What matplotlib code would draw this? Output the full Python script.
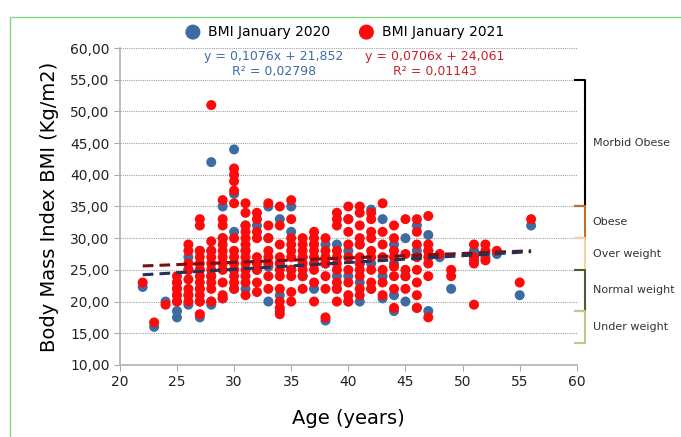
import matplotlib.pyplot as plt
from matplotlib.patches import Rectangle
from matplotlib.ticker import FuncFormatter
import numpy as np

# BMI readings per age
bmi_2020 = {
    22: [22.3], 23: [16.0], 24: [20.0],
    25: [17.5, 18.5, 20, 21, 22, 23], 26: [19.5, 21, 25, 27],
    27: [17.5, 20, 22, 25, 28], 28: [19.5, 20, 24, 28, 42],
    29: [20.5, 30, 35], 30: [22, 25, 31, 37, 44], 31: [22, 28, 32],
    32: [25, 32], 33: [20, 25.5, 30, 35], 34: [18.5, 21, 26, 33],
    35: [25, 31, 35], 36: [24, 27], 37: [22, 26, 29], 38: [17, 26, 29],
    39: [22, 24, 29], 40: [20, 24, 28, 33], 41: [20, 23, 26, 29],
    42: [22, 26, 34.5], 43: [20.5, 24, 33], 44: [18.5, 21, 26, 29],
    45: [20, 24, 30], 46: [19, 28, 32], 47: [18.5, 28, 30.5],
    48: [27], 49: [22], 51: [26.5, 28], 52: [27, 27.5], 53: [27.5],
    55: [21], 56: [32],
}
bmi_2021 = {
    22: [23.0], 23: [16.7], 24: [19.5],
    25: [20, 21, 22, 23, 24], 26: [20, 21, 22, 23.5, 25, 26, 28, 29],
    27: [18, 20, 21, 22, 23, 24, 25, 26, 27, 28, 32, 33],
    28: [20, 22, 23, 24, 25, 26, 27, 28, 29.5, 51],
    29: [20.5, 21, 23, 25, 26, 27, 28, 29, 30, 32, 33, 36],
    30: [22, 23, 24, 25, 26, 27, 28, 30, 35.5, 37.5, 39, 40, 41],
    31: [21, 23, 24, 25, 26, 27, 28, 29, 30, 31, 32, 34, 35.5],
    32: [21.5, 23, 25, 26, 27, 30, 31, 33, 34],
    33: [22, 24, 26, 27, 28, 30, 32, 35.5],
    34: [18, 19, 20, 22, 24, 25, 26, 27, 29, 32, 35],
    35: [20, 21.5, 24, 25, 27, 28, 29, 30, 33, 36],
    36: [22, 24, 25, 26, 27, 28, 29, 30],
    37: [20, 23, 25, 26, 27, 28, 29, 30, 31],
    38: [17.5, 22, 24, 26, 27, 28, 30],
    39: [20, 22, 23, 25, 26, 27, 28, 32, 33, 34],
    40: [20, 21, 23, 25, 27, 29, 31, 33, 35],
    41: [21, 22, 24, 25, 26, 27, 29, 30, 32, 34, 35],
    42: [22, 23, 25, 27, 28, 30, 31, 33, 34],
    43: [21, 23, 25, 27, 29, 31, 35.5],
    44: [19, 22, 24, 25.5, 27, 28, 30, 32],
    45: [22, 24, 25, 27.5, 33],
    46: [19, 21, 23, 25, 27, 29, 31, 33],
    47: [17.5, 24, 26, 27, 28, 29, 33.5],
    48: [27.5], 49: [24, 25], 51: [19.5, 26, 27, 29],
    52: [26.5, 28, 29], 53: [28], 55: [23], 56: [33],
}

# trendlines printed on the chart (slope, intercept)
fit_2020 = [0.1076, 21.852]
fit_2021 = [0.0706, 24.061]

# WHO categories shown as brackets on the right
categories = ["Morbid Obese", "Obese", "Over weight", "Normal weight", "Under weight"]
cat_low = [35, 30, 25, 18.5, 13.5]
cat_high = [55, 35, 30, 25, 18.5]
cat_colors = ["#000000", "#c0702c", "#f6cfa4", "#4d5e2c", "#b9cb8e"]

blue = "#3d6ca3"
red = "#ff0a0a"


def flatten(d):
    xs, ys = [], []
    for age, vals in d.items():
        xs += [age] * len(vals)
        ys += vals
    return np.array(xs), np.array(ys)


x20, y20 = flatten(bmi_2020)
x21, y21 = flatten(bmi_2021)

fig = plt.figure(figsize=(6.81, 4.37), dpi=100)
ax = fig.add_axes([0.176, 0.165, 0.671, 0.725])

# light green frame around the figure
fig.patches.append(Rectangle((10 / 681, -0.1), 1.2, 1 - 17 / 437 + 0.1,
                             transform=fig.transFigure, fill=False,
                             edgecolor="#86d486", linewidth=1.0))

ax.scatter(x20, y20, s=52, color=blue, zorder=3, label="BMI January 2020",
           edgecolors="none")
ax.scatter(x21, y21, s=52, color=red, zorder=4, label="BMI January 2021",
           edgecolors="none")

xt = np.array([22, 56])
ax.plot(xt, fit_2021[0] * xt + fit_2021[1], color="#7a0f12", lw=2.2,
        ls=(0, (3.5, 2)), zorder=5)
ax.plot(xt, fit_2020[0] * xt + fit_2020[1], color="#1f3458", lw=2.2,
        ls=(0, (3.5, 2)), zorder=5)

ax.set_xlim(20, 60)
ax.set_ylim(10, 60)
ax.set_xticks(range(20, 61, 5))
ax.set_yticks(range(10, 61, 5))
ax.yaxis.set_major_formatter(FuncFormatter(lambda v, p: f"{v:.2f}".replace(".", ",")))
ax.tick_params(labelsize=10, colors="#333333", length=4, color="#aaaaaa")
for lab in ax.get_xticklabels() + ax.get_yticklabels():
    lab.set_color("#222222")
for s in ["top", "right"]:
    ax.spines[s].set_visible(False)
for s in ["left", "bottom"]:
    ax.spines[s].set_color("#b0b0b0")
    ax.spines[s].set_linewidth(1.2)
for v in range(15, 61, 5):
    ax.axhline(v, color="#a0a0a0", lw=0.8, ls=(0, (1, 1)), zorder=1)

ax.set_xlabel("Age (years)", fontsize=14, labelpad=14)
ax.set_ylabel("Body Mass Index BMI (Kg/m2)", fontsize=14, labelpad=8)

# trendline equations
ax.text(33.5, 57.5, "y = 0,1076x + 21,852\nR² = 0,02798", color="#3d6ca3",
        fontsize=9, ha="center", va="center", linespacing=1.15)
ax.text(47.6, 57.5, "y = 0,0706x + 24,061\nR² = 0,01143", color="#c8232b",
        fontsize=9, ha="center", va="center", linespacing=1.15)

ax.legend(loc="lower center", bbox_to_anchor=(0.485, 0.99), ncol=2,
          frameon=False, fontsize=10, handletextpad=0.1,
          columnspacing=1.6, markerscale=1.5)

# category brackets
for name, lo, hi, c in zip(categories, cat_low, cat_high, cat_colors):
    ax.plot([59.8, 60.7, 60.7, 59.8], [hi, hi, lo, lo], color=c, lw=1.5,
            clip_on=False, zorder=2)
    ax.text(61.4, (lo + hi) / 2, name, fontsize=8, color="#333333",
            va="center", ha="left", clip_on=False)

plt.savefig("out.png", dpi=100)
